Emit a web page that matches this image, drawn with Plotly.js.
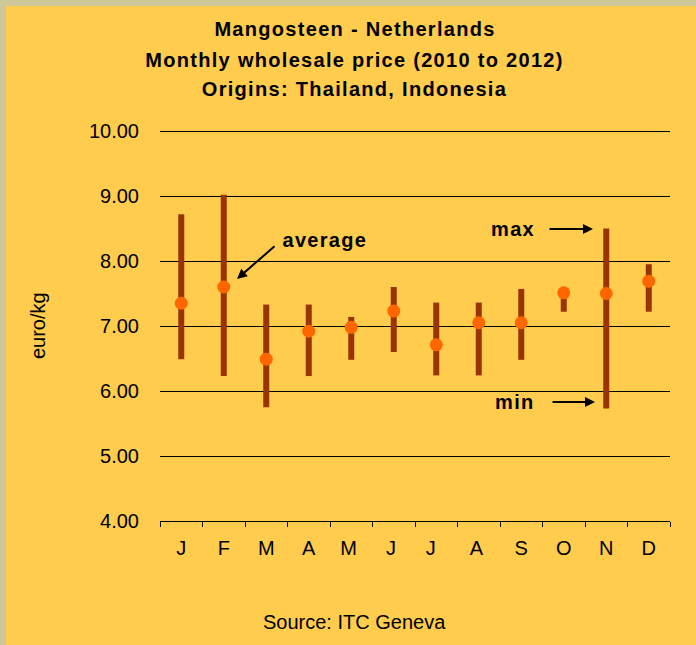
<!DOCTYPE html>
<html>
<head>
<meta charset="utf-8">
<script src="https://cdn.plot.ly/plotly-3.0.1.min.js"></script>
<style>
  html, body { margin: 0; padding: 0; background: #CCC899; }
  #chart { position: absolute; left: 6px; top: 6px; width: 690px; height: 639px; }
  .spaced text { letter-spacing: 1.3px; }
</style>
</head>
<body>
<div id="chart"></div>
<script>
// Monthly wholesale price of mangosteen, euro/kg (2010 to 2012)
const months = ['J', 'F', 'M', 'A', 'M ', 'J ', 'J  ', 'A ', 'S', 'O', 'N', 'D'];
const avgPrice = [7.35, 7.60, 6.49, 6.92, 6.98, 7.23, 6.71, 7.05, 7.05, 7.51, 7.50, 7.69];
const maxPrice = [8.72, 9.02, 7.33, 7.33, 7.14, 7.60, 7.36, 7.36, 7.57, 7.58, 8.50, 7.95];
const minPrice = [6.49, 6.23, 5.75, 6.23, 6.48, 6.60, 6.24, 6.24, 6.48, 7.22, 5.73, 7.22];

const titleLines = [
  'Mangosteen - Netherlands',
  'Monthly wholesale price (2010 to 2012)',
  'Origins: Thailand, Indonesia'
];

const yMin = 4;
const yMax = 10;

const font = 'Liberation Sans, Arial, sans-serif';

const trace = {
  x: months,
  y: avgPrice,
  type: 'scatter',
  mode: 'markers',
  marker: { color: '#FF6600', size: 13 },
  error_y: {
    type: 'data',
    symmetric: false,
    array: maxPrice.map((v, i) => v - avgPrice[i]),
    arrayminus: minPrice.map((v, i) => avgPrice[i] - v),
    color: '#993300',
    thickness: 6,
    width: 0
  },
  hoverinfo: 'skip'
};

const titleY = [1.2615, 1.182, 1.1077];
const annotations = titleLines.map((t, i) => ({
  text: '<b>' + t + '</b>',
  xref: 'paper', yref: 'paper',
  x: 0.382, y: titleY[i],
  xanchor: 'center', yanchor: 'middle',
  showarrow: false,
  font: { family: font, size: 20, color: '#000' }
}));

// axis title and source
annotations.push({
  text: 'euro/kg', textangle: -90,
  xref: 'paper', yref: 'paper', x: -0.239, y: 0.5,
  xanchor: 'center', yanchor: 'middle', showarrow: false,
  font: { family: font, size: 20, color: '#000' }
});
annotations.push({
  text: 'Source: ITC Geneva',
  xref: 'paper', yref: 'paper', x: 0.382, y: -0.259,
  xanchor: 'center', yanchor: 'middle', showarrow: false,
  font: { family: font, size: 20, color: '#000' }
});

// labels with arrows
const labels = [
  { text: 'average', x: 0.3235, y: 0.7205, hx: 0.151, hy: 0.6205, ax: 39, ay: -34 },
  { text: 'max', x: 0.692, y: 0.749, hx: 0.849, hy: 0.749, ax: -45, ay: 0 },
  { text: 'min', x: 0.696, y: 0.305, hx: 0.853, hy: 0.305, ax: -44, ay: 0 }
];
labels.forEach(l => {
  annotations.push({
    text: '<b>' + l.text + '</b>',
    xref: 'paper', yref: 'paper', x: l.x, y: l.y,
    xanchor: 'center', yanchor: 'middle', showarrow: false,
    font: { family: font, size: 20, color: '#000' }
  });
  annotations.push({
    text: '', xref: 'paper', yref: 'paper', x: l.hx, y: l.hy,
    showarrow: true, ax: l.ax, ay: l.ay,
    arrowhead: 2, arrowsize: 1, arrowwidth: 2, arrowcolor: '#000'
  });
});

const layout = {
  width: 690,
  height: 639,
  margin: { l: 154, r: 26, t: 125, b: 124 },
  paper_bgcolor: '#FFCC4D',
  plot_bgcolor: '#FFCC4D',
  font: { family: font, size: 20, color: '#000' },
  showlegend: false,
  xaxis: {
    type: 'category',
    range: [-0.5, 11.5],
    showgrid: false,
    showline: true,
    linecolor: '#000',
    linewidth: 1,
    ticks: 'outside',
    tickson: 'boundaries',
    ticklen: 5,
    tickcolor: '#000',
    ticklabelstandoff: 9,
    tickfont: { family: font, size: 20 },
    fixedrange: true
  },
  yaxis: {
    range: [yMin, yMax],
    dtick: 1,
    tickformat: '.2f',
    showgrid: true,
    gridcolor: '#000',
    gridwidth: 1,
    zeroline: false,
    showline: false,
    ticks: '',
    ticklabelstandoff: 20,
    tickfont: { family: font, size: 20 },
    fixedrange: true
  },
  // top gridline (Plotly drops the one on the plot edge); nudged half a pixel to stay crisp
  shapes: [{
    type: 'line', xref: 'paper', yref: 'paper',
    x0: 0, x1: 1, y0: 0.9987, y1: 0.9987,
    line: { color: '#000', width: 1 }, layer: 'above'
  }],
  annotations: annotations
};

Plotly.newPlot('chart', [trace], layout, { displayModeBar: false, staticPlot: true }).then(() => {
  document.querySelectorAll('#chart .annotation').forEach((a, i) => {
    if (i < 3 || i >= 5) a.classList.add('spaced');
  });
});
</script>
</body>
</html>
